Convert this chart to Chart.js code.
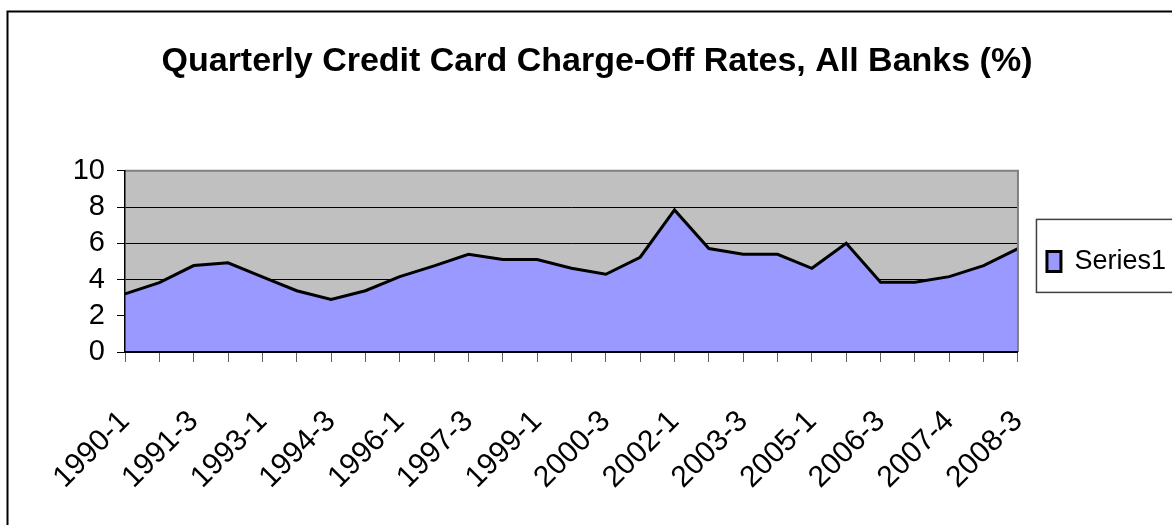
<!DOCTYPE html>
<html>
<head>
<meta charset="utf-8">
<script src="https://cdn.jsdelivr.net/npm/chart.js@4/dist/chart.umd.min.js"></script>
<style>
  html, body { margin: 0; padding: 0; background: #fff; }
  #wrap { width: 1172px; height: 525px; }
</style>
</head>
<body>
<div id="wrap"><canvas id="chart" width="1172" height="525"></canvas></div>
<script>
// quarters, every 3rd quarter (only every second one is labelled on the axis)
var quarters = [
  '1990-1', '1990-4', '1991-3', '1992-2', '1993-1', '1993-4', '1994-3', '1995-2', '1996-1',
  '1996-4', '1997-3', '1998-2', '1999-1', '1999-4', '2000-3', '2001-2', '2002-1', '2002-4',
  '2003-3', '2004-2', '2005-1', '2005-4', '2006-3', '2007-1', '2007-4', '2008-1', '2008-3'
];
var chargeOffRates = [
  3.21, 3.83, 4.77, 4.92, 4.15, 3.38, 2.90, 3.38, 4.16,
  4.75, 5.39, 5.10, 5.10, 4.62, 4.29, 5.23, 7.84, 5.71,
  5.39, 5.39, 4.62, 6.00, 3.85, 3.85, 4.16, 4.77, 5.71
];
var yTickValues = [0, 2, 4, 6, 8, 10];
var seriesName = 'Series1';
var chartTitle = 'Quarterly Credit Card Charge-Off Rates, All Banks (%)';

var plainFont = '"Liberation Sans", Arial, sans-serif';

// excel-ish decorations: grey plot area, plot border, outer frame, legend box
var excelLook = {
  id: 'excelLook',
  beforeDraw: function(chart) {
    var ctx = chart.ctx, a = chart.chartArea;
    ctx.save();
    ctx.fillStyle = '#c0c0c0';
    ctx.fillRect(a.left, a.top, a.right - a.left, a.bottom - a.top);
    ctx.restore();
  },
  afterDatasetsDraw: function(chart) {
    var ctx = chart.ctx, a = chart.chartArea;
    ctx.save();
    ctx.strokeStyle = '#808080';
    ctx.lineWidth = 2;
    ctx.beginPath();
    ctx.moveTo(a.left, a.top);
    ctx.lineTo(a.right, a.top);
    ctx.lineTo(a.right, a.bottom);
    ctx.stroke();
    ctx.restore();
  },
  afterDraw: function(chart) {
    var ctx = chart.ctx;
    ctx.save();
    // outer frame
    ctx.strokeStyle = '#000';
    ctx.lineWidth = 2;
    ctx.beginPath();
    ctx.moveTo(7.5, chart.height + 2);
    ctx.lineTo(7.5, 11.5);
    ctx.lineTo(chart.width + 2, 11.5);
    ctx.stroke();
    // legend frame
    var lg = chart.legend;
    if (lg && lg.legendHitBoxes && lg.legendHitBoxes.length) {
      var hb = lg.legendHitBoxes[0];
      var midY = hb.top + hb.height / 2;
      ctx.strokeStyle = '#404040';
      ctx.lineWidth = 1.5;
      ctx.strokeRect(hb.left - 10.5, midY - 42, chart.width, 73);
    }
    ctx.restore();
  }
};

var ctx = document.getElementById('chart');
var chart = new Chart(ctx, {
  type: 'line',
  data: {
    labels: quarters,
    datasets: [{
      label: seriesName,
      data: chargeOffRates,
      backgroundColor: '#9999ff',
      borderColor: '#000',
      borderWidth: 3,
      fill: 'origin',
      tension: 0,
      pointRadius: 0,
      pointHoverRadius: 0
    }]
  },
  options: {
    responsive: false,
    animation: false,
    events: [],
    layout: {
      padding: { left: 18, right: -4, top: 0, bottom: 0 }
    },
    scales: {
      x: {
        type: 'category',
        offset: false,
        afterFit: function(scale) { scale.height = 173; },
        grid: {
          drawOnChartArea: false,
          drawTicks: true,
          tickLength: 10,
          color: '#606060',
          lineWidth: 1
        },
        border: { display: true, color: '#000', width: 2, z: 1 },
        ticks: {
          autoSkip: false,
          maxRotation: 45,
          minRotation: 45,
          padding: 42,
          color: '#000',
          font: { family: plainFont, size: 30 },
          callback: function(val, i) {
            return i % 2 === 0 ? quarters[i] : '';
          }
        }
      },
      y: {
        min: 0,
        max: 10,
        afterFit: function(scale) { scale.width = 107; },
        afterBuildTicks: function(scale) {
          scale.ticks = yTickValues.map(function(v) { return { value: v }; });
        },
        grid: {
          color: '#000',
          lineWidth: 1,
          tickLength: 8
        },
        border: { display: true, color: '#000', width: 1.5, z: 1 },
        ticks: {
          autoSkip: false,
          padding: 12,
          color: '#000',
          font: { family: plainFont, size: 29 }
        }
      },
      spacer: {
        type: 'linear',
        position: 'right',
        display: true,
        afterFit: function(scale) { scale.width = 23; },
        grid: { display: false },
        border: { display: false },
        ticks: { display: false }
      }
    },
    plugins: {
      title: {
        display: true,
        text: chartTitle,
        color: '#000',
        font: { family: plainFont, size: 34, weight: 'bold' },
        padding: { top: 41, bottom: 89 }
      },
      legend: {
        display: true,
        position: 'right',
        fullSize: false,
        labels: {
          boxWidth: 14,
          boxHeight: 20,
          padding: 6,
          color: '#000',
          font: { family: plainFont, size: 27 }
        }
      },
      tooltip: { enabled: false }
    }
  },
  plugins: [excelLook]
});
</script>
</body>
</html>
